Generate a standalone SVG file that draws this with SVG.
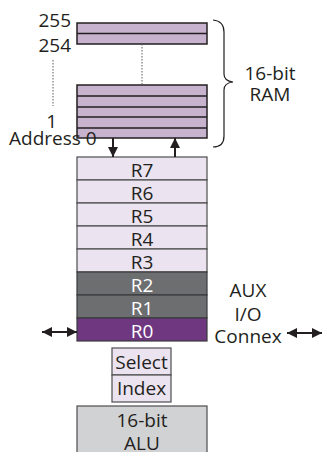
<svg xmlns="http://www.w3.org/2000/svg" width="323" height="452" viewBox="0 0 323 452">
<defs>
<marker id="ah" viewBox="0 0 10 10" refX="10" refY="5" markerWidth="10" markerHeight="10" markerUnits="userSpaceOnUse" orient="auto-start-reverse">
<path d="M0,0 L10,5 L0,10 z" fill="#231f20"/>
</marker>
<style>
text{font-family:"Open Sans","Noto Sans","Liberation Sans",sans-serif;font-size:19px;fill:#231f20}
.ram{fill:#c8b3cf;stroke:#231f20;stroke-width:1.5}
.rl{stroke:#231f20;stroke-width:1.5}
.reg{fill:#ebe3ef;stroke:#4d4d4f;stroke-width:1.2}
.dark{fill:#6d6e70;stroke:#3a3a3c;stroke-width:1.2}
.pur{fill:#6e3780;stroke:#3a3a3c;stroke-width:1.2}
.w{fill:#ffffff}
.m{text-anchor:middle}
.e{text-anchor:end}
.dot{stroke:#58595b;stroke-width:1;stroke-dasharray:1.5,1.5;fill:none}
.conn{stroke:#231f20;stroke-width:2;fill:none}
</style>
</defs>
<rect width="323" height="452" fill="#ffffff"/>
<g id="ram">
<rect class="ram" x="77" y="23" width="130" height="21"/>
<line class="rl" x1="77" y1="33.5" x2="207" y2="33.5"/>
<rect class="ram" x="77" y="85" width="130" height="53"/>
<line class="rl" x1="77" y1="96" x2="207" y2="96"/>
<line class="rl" x1="77" y1="107" x2="207" y2="107"/>
<line class="rl" x1="77" y1="117" x2="207" y2="117"/>
<line class="rl" x1="77" y1="128" x2="207" y2="128"/>
<line class="dot" x1="142" y1="44" x2="142" y2="85"/>
<line class="dot" x1="53" y1="60" x2="53" y2="106"/>
<text class="e" x="71" y="27">255</text>
<text class="e" x="71" y="52">254</text>
<text class="e" x="57" y="128">1</text>
<text x="9" y="145">Address 0</text>
<path d="M213,20 Q224,21 224,32 L224,74 Q224,81 233,82 Q224,83 224,90 L224,136 Q224,147 213,147" fill="none" stroke="#231f20" stroke-width="1.2"/>
<text class="m" x="270" y="80">16-bit</text>
<text class="m" x="270" y="101">RAM</text>
</g>
<g id="registers">
<rect class="reg" x="77" y="157" width="130" height="23"/>
<rect class="reg" x="77" y="180" width="130" height="23"/>
<rect class="reg" x="77" y="203" width="130" height="23"/>
<rect class="reg" x="77" y="226" width="130" height="23"/>
<rect class="reg" x="77" y="249" width="130" height="23"/>
<rect class="dark" x="77" y="272" width="130" height="23"/>
<rect class="dark" x="77" y="295" width="130" height="23"/>
<rect class="pur" x="77" y="318" width="130" height="23"/>
<text class="m" x="142" y="176.5">R7</text>
<text class="m" x="142" y="199.5">R6</text>
<text class="m" x="142" y="222.5">R5</text>
<text class="m" x="142" y="245.5">R4</text>
<text class="m" x="142" y="268.5">R3</text>
<text class="m w" x="142" y="291.5">R2</text>
<text class="m w" x="142" y="314.5">R1</text>
<text class="m w" x="142" y="337.5">R0</text>
</g>
<g id="aux">
<text class="m" x="248" y="297">AUX</text>
<text class="m" x="248" y="321">I/O</text>
<text class="m" x="248" y="343">Connex</text>
</g>
<g id="select">
<rect class="reg" x="112" y="348" width="59" height="27"/>
<text class="m" x="141.5" y="369">Select</text>
</g>
<g id="index">
<rect class="reg" x="112" y="375" width="59" height="27"/>
<text class="m" x="141.5" y="395">Index</text>
</g>
<g id="alu">
<rect x="77" y="406" width="130" height="50" fill="#d1d2d4" stroke="#4d4d4f" stroke-width="1.2"/>
<text class="m" x="142" y="427">16-bit</text>
<text class="m" x="142" y="450">ALU</text>
</g>
<g id="connectors">
<line class="conn" x1="113" y1="138" x2="113" y2="157" marker-end="url(#ah)"/>
<line class="conn" x1="175" y1="157" x2="175" y2="138" marker-end="url(#ah)"/>
<line class="conn" x1="42" y1="332" x2="77" y2="332" marker-start="url(#ah)" marker-end="url(#ah)"/>
<line class="conn" x1="287" y1="333" x2="322" y2="333" marker-start="url(#ah)" marker-end="url(#ah)"/>
</g>
</svg>
